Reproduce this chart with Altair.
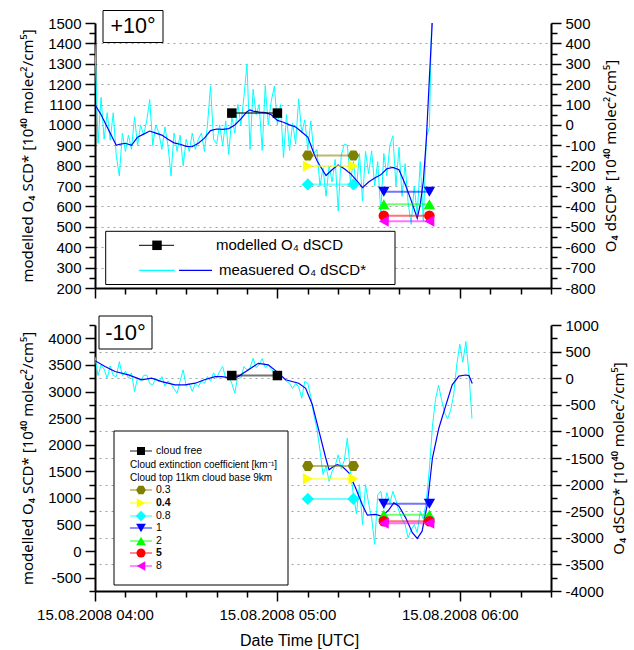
import altair as alt
import pandas as pd

FONT = "Liberation Sans, Noto Sans, DejaVu Sans"
TFONT = "Noto Sans, DejaVu Sans"

# ---------------- data (time in minutes after 15.08.2008 04:00 UTC) ----------------
# +10 deg : measured O4 dSCD* (raw, 1-min) and smoothed
top_raw_t = list(range(0, 112))
top_raw = [
    395, -90, 135, -70, 60, -75, 60, -150, -250, -40,
    -130, -50, -120, 40, -100, 0, -50, 20, 125, -100,
    0, -40, -120, -10, -100, -250, -40, -130, -50, -200,
    -70, -130, -40, -120, -70, -40, -130, 0, 190, -70,
    -94, 0, -100, 20, -145, 40, -40, 100, 0, 140,
    300, -120, 175, 50, 100, -125, 193, 0, 120, 190,
    0, 100, -160, 50, -125, 10, -94, 128, -40, 25,
    -120, 20, -140, -120, -300, -210, -350, -200, -280, -170,
    -423, -150, -94, -100, -280, -180, -310, -140, -373, -130,
    -240, -127, -300, -180, -430, -140, -250, -100, -53, -300,
    -110, -350, -190, -380, -488, -300, -440, -180, -472, -60,
    -12, 700]
top_sm_t = [0, 2, 4, 6, 7, 8, 10, 12, 14, 16, 18, 20, 22, 24, 26, 28, 30, 32, 34, 36,
            38, 40, 42, 44, 46, 48, 50, 51, 52, 54, 56, 58, 60, 62, 64, 66, 68, 70, 71, 72,
            73, 74, 76, 78, 80, 82, 84, 86, 88, 90, 92, 94, 96, 98, 100, 102, 104, 106, 107,
            108, 109, 110, 111]
top_sm = [100, 50, -10, -70, -100, -95, -90, -100, -60, -45, -30, -40, -50, -70, -88, -95,
          -105, -107, -90, -65, -28, -20, -22, -18, 0, 30, 65, 74, 68, 63, 60, 50, 22, 13, 0,
          -10, -35, -60, -100, -140, -175, -200, -248, -220, -196, -215, -238, -272, -308,
          -280, -260, -245, -215, -208, -220, -290, -370, -458, -390, -277, -70, 230, 520]

# -10 deg
bot_raw_t = list(range(0, 125))
bot_raw = [
    400, 50, 250, 170, 0, 230, 50, 30, 310, 50,
    130, 0, 100, -250, 0, -50, 50, 60, -100, -125,
    0, -70, 30, -150, -50, -100, -200, -280, -50, 156,
    -150, -100, -250, -100, -160, -50, -100, 30, -50, 100,
    0, 130, 220, 0, 50, -100, -280, 50, 0, 220,
    150, 190, 375, 200, 250, 370, 200, 250, 170, 100,
    80, 50, 0, -60, -100, -190, -100, -160, -375, -60,
    -100, -350, -690, -950, -1350, -1810, -1650, -1940, -1750, -1650,
    -1440, -1700, -1550, -1125, -1750, -2190, -2550, -2000, -2750, -2000,
    -2350, -2625, -3125, -2190, -2125, -2450, -2150, -2350, -2125, -2300,
    -2500, -2650, -2750, -3000, -2850, -2750, -2900, -2500, -2650, -2300,
    -1700, -900, -400, -130, -400, -650, -760, -600, -300, 250,
    640, 300, 690, 100, -760]
bot_sm_t = [0, 3.3, 6.6, 11, 15.4, 18.6, 22, 26.3, 29.6, 33, 36, 39.5, 41.7, 45, 47, 50.4,
            53.7, 57, 60.3, 62.7, 67, 69.3, 71.5, 73.7, 75.9, 77, 78.6, 79.7, 81.3, 83.5,
            85.7, 87.9, 89.6, 92.3, 94.5, 96.7, 98.3, 100, 102.2, 104.4, 106, 107.6, 109.3,
            111, 113.1, 115.3, 117.5, 119.7, 121.9, 123, 124.1]
bot_sm = [330, 220, 125, 62, -30, 0, -63, -125, -125, -94, -30, 30, 30, 0, 30, 156, 280, 250,
          100, -30, -94, -190, -500, -1000, -1500, -1720, -1655, -1625, -1656, -1780, -2060,
          -2375, -2575, -2560, -2595, -2470, -2344, -2405, -2625, -2905, -3013, -2875, -2375,
          -1500, -940, -530, -125, 40, 60, 50, -100]

# modelled O4 SCD (left axis)
SERIES = ["cloud free", "0.3", "0.4", "0.8", "1", "2", "5", "8"]
COLORS = ["#000000", "#808000", "#ffff00", "#00ffff", "#0000ff", "#00ff00", "#ff0000", "#ff00ff"]
HEX = "M-1,0L-0.5,-0.866L0.5,-0.866L1,0L0.5,0.866L-0.5,0.866Z"
SHAPES = ["square", HEX, "triangle-right", "diamond", "triangle-down", "triangle-up",
          "circle", "triangle-left"]
SIZES = [90, 130, 130, 150, 130, 130, 110, 130]
model_t_start = [45, 70, 70, 70, 95, 95, 95, 95]
model_t_end = [60, 85, 85, 85, 110, 110, 110, 110]
top_model = [1058, 850, 798, 708, 672, 611, 555, 528]
bot_model = [3300, 1600, 1360, 980, 890, 685, 560, 525]


def model_df(vals):
    rows = []
    for s, a, b, v in zip(SERIES, model_t_start, model_t_end, vals):
        rows.append({"series": s, "t": a, "scd": v})
        rows.append({"series": s, "t": b, "scd": v})
    return pd.DataFrame(rows)


def cond(test, a, b):
    return {"condition": {"test": test, "value": a}, "value": b}


EMPTY = alt.Data(values=[{}])


def txt(x, y, s, size, align="left", weight="normal", font=FONT):
    return alt.Chart(EMPTY).mark_text(text=s, font=font, fontSize=size, align=align,
                                      baseline="middle", fontWeight=weight,
                                      color="black").encode(x=alt.value(x), y=alt.value(y))


def box(x, x2, y, y2):
    return alt.Chart(EMPTY).mark_rect(fill="white", stroke="black", strokeWidth=1).encode(
        x=alt.value(x), x2=alt.value(x2), y=alt.value(y), y2=alt.value(y2))


def hline(x, x2, y, color, width=1.0, opacity=1.0):
    return alt.Chart(EMPTY).mark_rule(color=color, strokeWidth=width, opacity=opacity).encode(
        x=alt.value(x), x2=alt.value(x2), y=alt.value(y))


def sym(x, y, shape, color, size):
    return alt.Chart(EMPTY).mark_point(shape=shape, filled=True, color=color, size=size,
                                       opacity=1).encode(x=alt.value(x), y=alt.value(y))


L_TITLE = "modelled O\u2084 SCD* [10\u2074\u2070 molec\u00b2/cm\u2075]"
R_TITLE = "O\u2084 dSCD* [10\u2074\u2070 molec\u00b2/cm\u2075]"


def panel(raw_t, raw, sm_t, sm, mvals, ldom, lstep, lmajor, rdom, rstep, rmajor,
          lgrid, rgrid, bottom, height, annots):
    xkw = dict(values=list(range(0, 151, 10)),
               tickSize=cond("datum.value % 60 === 0", 10, 6), grid=False)
    if bottom:
        xkw.update(labels=True,
                   labelExpr="datum.value % 60 === 0 ? '15.08.2008 0' + (4 + datum.value / 60) + ':00' : ''",
                   title="Date Time [UTC]", titleX=204, titlePadding=10, labelPadding=6,
                   titleFont=FONT, titleFontSize=16)
    else:
        xkw.update(labels=False, title=None)
    xaxis = alt.Axis(**xkw)
    X = alt.X("t:Q", scale=alt.Scale(domain=[0, 150], nice=False, zero=False), axis=xaxis)

    lkw = dict(orient="left", values=list(range(ldom[0], ldom[1] + 1, lstep)),
               labelExpr=f"datum.value % {lmajor} === 0 ? '' + datum.value : ''",
               tickSize=cond(f"datum.value % {lmajor} === 0", 10, 6),
               title=L_TITLE, titlePadding=12, labelPadding=4, grid=lgrid)
    if lgrid:
        lkw.update(gridDash=[2, 4], gridColor="#a0a0a0",
                   gridOpacity=cond(f"datum.value % {lmajor} === 0 && datum.value > {ldom[0]} && datum.value < {ldom[1]}", 1, 0))
    rkw = dict(orient="right", values=list(range(rdom[0], rdom[1] + 1, rstep)),
               labelExpr=f"datum.value % {rmajor} === 0 ? '' + datum.value : ''",
               tickSize=cond(f"datum.value % {rmajor} === 0", 10, 6),
               title=R_TITLE, titleAngle=270, titleBaseline="top", titlePadding=8,
               labelPadding=4, grid=rgrid)
    if rgrid:
        rkw.update(gridDash=[2, 4], gridColor="#a0a0a0",
                   gridOpacity=cond(f"datum.value % {rmajor} === 0 && datum.value > {rdom[0]} && datum.value < {rdom[1]}", 1, 0))

    YL = alt.Y("scd:Q", scale=alt.Scale(domain=ldom, nice=False, zero=False), axis=alt.Axis(**lkw))
    YR = alt.Y("dscd:Q", scale=alt.Scale(domain=rdom, nice=False, zero=False), axis=alt.Axis(**rkw))

    raw_df = pd.DataFrame({"t": raw_t, "dscd": raw})
    sm_df = pd.DataFrame({"t": sm_t, "dscd": sm})
    measured = alt.layer(
        alt.Chart(raw_df).mark_line(color="#00ffff", strokeWidth=1, clip=True).encode(x=X, y=YR),
        alt.Chart(sm_df).mark_line(color="#0000ff", strokeWidth=1.2, clip=True).encode(x=X, y=YR),
    )
    mdf = model_df(mvals)
    col = alt.Color("series:N", scale=alt.Scale(domain=SERIES, range=COLORS), legend=None)
    model = alt.layer(
        alt.Chart(mdf).mark_line(strokeWidth=2, opacity=0.55).encode(x=X, y=YL, color=col),
        alt.Chart(mdf).mark_point(filled=True, opacity=1).encode(
            x=X, y=YL, color=col,
            shape=alt.Shape("series:N", scale=alt.Scale(domain=SERIES, range=SHAPES), legend=None),
            size=alt.Size("series:N", scale=alt.Scale(type="ordinal", domain=SERIES, range=SIZES), legend=None)),
    )
    return alt.layer(measured, model, *annots).resolve_scale(y="independent").properties(
        width=456, height=height)


# annotations (legends and panel labels)
top_ann = [
    box(8, 68, -12.5, 19.5), txt(38, 3.5, "+10\u00b0", 21.5, align="center"),
    box(10.7, 300, 208.3, 261.5),
    hline(44, 79, 222.3, "#000000", 1), sym(62, 222.3, "square", "#000000", 90),
    txt(121, 222.3, "modelled O\u2084 dSCD", 15),
    hline(44, 79.7, 247.3, "#00ffff", 1.2), hline(84, 117, 247.3, "#0000ff", 1.2),
    txt(124, 247.3, "measuered O\u2084 dSCD*", 15),
]
bot_ann = [
    box(4, 57, -9, 24), txt(30.5, 7.5, "-10\u00b0", 22, align="center"),
    box(19, 193, 106, 260),
    txt(35, 140, "Cloud extinction coefficient [km\u207b\u00b9]", 10),
    txt(35, 153, "Cloud top 11km cloud base 9km", 10),
]
leg_y = [126, 165, 178, 191, 203, 216, 228, 241]
leg_size = [64, 95, 95, 110, 95, 95, 80, 95]
for s, c, sh, yy, sz in zip(SERIES, COLORS, SHAPES, leg_y, leg_size):
    bot_ann.append(hline(35, 57, yy, c, 1.5, 0.6))
    bot_ann.append(sym(46, yy, sh, c, sz))
    bot_ann.append(txt(61, yy, s, 10.5, weight="bold" if s in ("0.4", "5") else "normal"))

top = panel(top_raw_t, top_raw, top_sm_t, top_sm, top_model, [200, 1500], 50, 100,
            [-800, 500], 50, 100, True, False, False, 265, top_ann)
bottom = panel(bot_raw_t, bot_raw, bot_sm_t, bot_sm, bot_model, [-750, 4250], 250, 500,
               [-4000, 1000], 250, 500, False, True, True, 266, bot_ann)

chart = alt.vconcat(top, bottom, spacing=15).properties(
    padding={"left": 20, "top": 9, "right": 2, "bottom": 0}
).configure_axis(
    labelFont=FONT, labelFontSize=15, titleFont=TFONT, titleFontSize=15,
    titleFontWeight="normal", labelColor="black", titleColor="black",
    domainColor="black", domainWidth=2, tickColor="black", tickWidth=1.5,
    labelFlush=False, labelOverlap=False
).configure_view(stroke="transparent")

chart.save("out.html", embed_options={"renderer": "svg", "actions": False})
